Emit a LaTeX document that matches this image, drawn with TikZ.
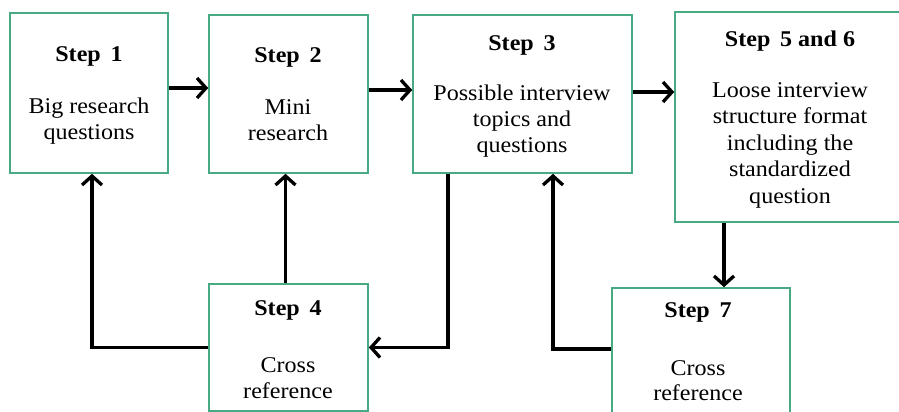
\documentclass[tikz,border=0pt]{standalone}
\usepackage{fontspec}
\setmainfont[FakeStretch=1.07]{Liberation Serif}
\usetikzlibrary{arrows.meta}
\definecolor{boxgreen}{RGB}{72,170,130}
\begin{document}
\begin{tikzpicture}[x=1pt,y=-1pt,
  box/.style={draw=boxgreen,line width=1.6pt,fill=white,inner sep=0pt},
  txt/.style={anchor=base,inner sep=0pt,font=\fontsize{22.5}{27}\selectfont},
  ttl/.style={txt,font=\fontsize{22.5}{27}\selectfont\bfseries},
  conn/.style={line width=3.3pt,line join=miter},
  arr/.style={conn,-{Straight Barb[length=9pt,width=20pt]}}]
\fill[white] (0,0) rectangle (899,412);
\useasboundingbox (0,0) rectangle (899,412);
% boxes
\node[box,minimum width=158pt,minimum height=160pt] (b1) at (89,93) {};
\node[box,minimum width=159pt,minimum height=158pt] (b2) at (288.5,94) {};
\node[box,minimum width=219pt,minimum height=158pt] (b3) at (522.5,94) {};
\node[box,minimum width=227pt,minimum height=210pt] (b56) at (788.5,117) {};
\node[box,minimum width=159pt,minimum height=127pt] (b4) at (288.5,347.5) {};
\node[box,minimum width=178pt,minimum height=128pt] (b7) at (701,352) {};
% texts
\node[ttl] (t1a) at (89,62) {Step\, 1};
\node[txt] (t1b) at (89,113) {Big research};
\node[txt] (t1c) at (89,139) {questions};
\node[ttl] (t2a) at (288,63) {Step\, 2};
\node[txt] (t2b) at (288,114) {Mini};
\node[txt] (t2c) at (288,140) {research};
\node[ttl] (t3a) at (522,51) {Step\, 3};
\node[txt] (t3b) at (522,100) {Possible interview};
\node[txt] (t3c) at (522,126) {topics and};
\node[txt] (t3d) at (522,152) {questions};
\node[ttl] (t5a) at (790,47) {Step\, 5 and 6};
\node[txt] (t5b) at (790,97) {Loose interview};
\node[txt] (t5c) at (790,123.5) {structure format};
\node[txt] (t5d) at (790,150) {including the};
\node[txt] (t5e) at (790,176.5) {standardized};
\node[txt] (t5f) at (790,203) {question};
\node[ttl] (t4a) at (288,315) {Step\, 4};
\node[txt] (t4b) at (288,372) {Cross};
\node[txt] (t4c) at (288,398) {reference};
\node[ttl] (t7a) at (698,317) {Step\, 7};
\node[txt] (t7b) at (698,375) {Cross};
\node[txt] (t7c) at (698,400) {reference};
% connectors
\draw[arr] ([yshift=5pt]b1.east) -- ([yshift=6pt]b2.west);
\draw[arr] ([yshift=4pt]b2.east) -- ([yshift=4pt]b3.west);
\draw[arr] ([yshift=2pt]b3.east) -- ([yshift=25pt]b56.west);
\draw[arr] ([xshift=-64.5pt]b56.south) -- ([xshift=23pt]b7.north);
\draw[arr] ([xshift=-3pt]b4.north) -- ([xshift=-3pt]b2.south);
\draw[arr] (b4.west) -| ([xshift=3pt]b1.south);
\draw[arr] ([xshift=-74.5pt]b3.south) |- (b4.east);
\draw[arr] ([yshift=3pt]b7.west) -| ([xshift=30.5pt]b3.south);
\end{tikzpicture}
\end{document}
